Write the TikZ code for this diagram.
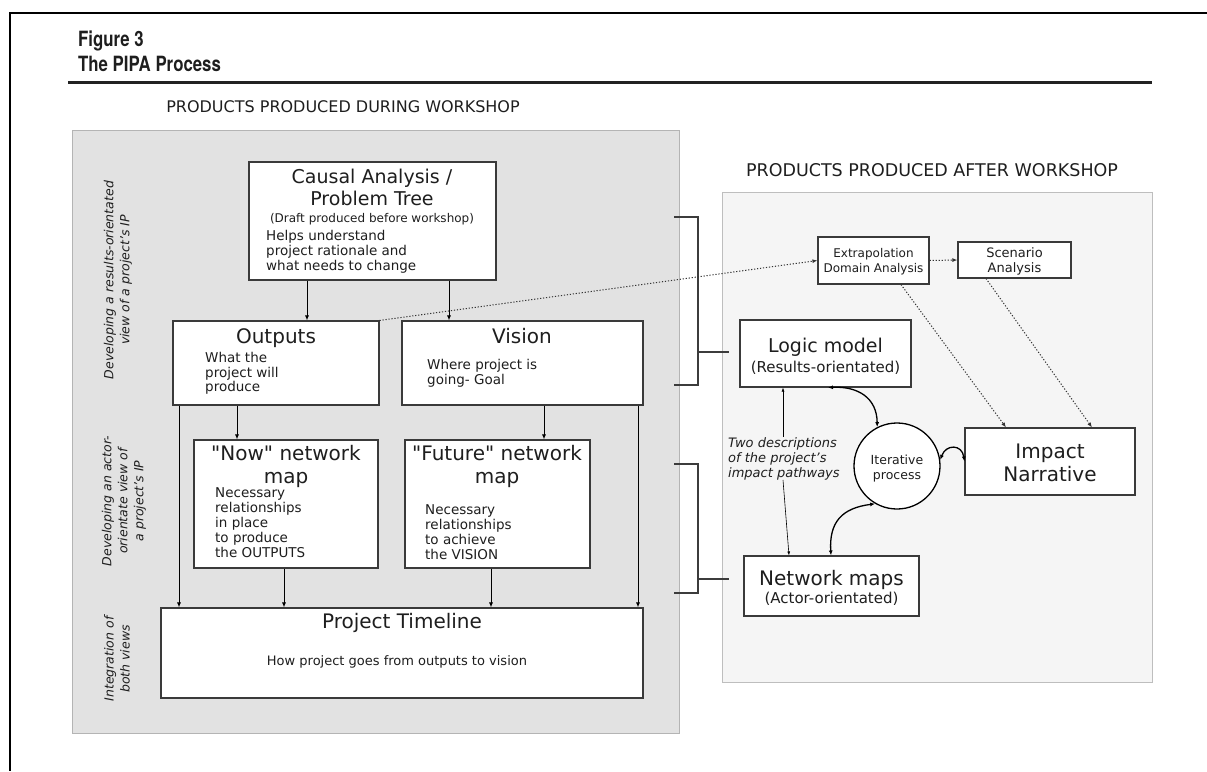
\documentclass[tikz,border=0pt]{standalone}
\usepackage{fontspec}
\setmainfont{DejaVu Sans}[Ligatures=TeXOff]
\newfontfamily\hfont[FakeStretch=0.8]{TeX Gyre Heros}
\usetikzlibrary{arrows.meta,calc}
\definecolor{panelgray}{HTML}{E2E2E2}
\definecolor{pborder}{HTML}{B4B4B4}
\definecolor{rpanel}{HTML}{F5F5F5}
\definecolor{rborder}{HTML}{BEBEBE}
\definecolor{boxc}{HTML}{3A3A3A}
\definecolor{txt}{HTML}{1E1E1E}
\definecolor{dotc}{HTML}{333333}
\definecolor{brkc}{HTML}{3C3C3C}
\definecolor{rulec}{HTML}{222222}
\begin{document}
\begin{tikzpicture}[x=1pt,y=-1pt,
  box/.style={draw=boxc,fill=white,line width=1.1pt,inner sep=0pt,rectangle},
  tx/.style={inner sep=0pt,text=txt},
  arr/.style={draw=black,line width=0.9pt,-{Latex[length=5pt,width=4pt]}},
  dotl/.style={draw=dotc,line width=1pt,dash pattern=on 1.2pt off 1.8pt,-{Latex[length=5pt,width=4pt]}},
  darr/.style={draw=black,line width=1.3pt,{Latex[length=5pt,width=4pt]}-{Latex[length=5pt,width=4pt]}},
  thinarr/.style={draw=black,line width=0.6pt,-{Latex[length=4pt,width=3pt]}},
  brk/.style={draw=brkc,line width=1.3pt},
  rot/.style={tx,rotate=90,align=center,font=\itshape\fontsize{12.5}{16}\selectfont}]
\useasboundingbox (0,0) rectangle (1207,771);
% frame
\draw[line width=2.5pt] (1207,13) -- (10,13) -- (10,771);
% title
\node[tx,anchor=base west,font=\hfont\bfseries\fontsize{21}{24}\selectfont] (fig) at (78,46) {Figure 3};
\node[tx,anchor=base west,font=\hfont\bfseries\fontsize{21}{24}\selectfont] (ttl) at (78,71) {The PIPA Process};
\draw[line width=3pt,rulec] (68,82) -- (1152,82);
% headers
\node[tx,anchor=base,font=\fontsize{16}{19}\selectfont] (hdr1) at (343,112) {PRODUCTS PRODUCED DURING WORKSHOP};
\node[tx,anchor=base,font=\fontsize{17.5}{20}\selectfont] (hdr2) at (932,176) {PRODUCTS PRODUCED AFTER WORKSHOP};
% panels
\draw[draw=pborder,fill=panelgray,line width=1pt] (72,130) rectangle (679,733);
\draw[draw=rborder,fill=rpanel,line width=1pt] (722,192) rectangle (1152,682);
% rotated labels
\node[rot] (lab1) at (118,280) {Developing a results-orientated\\view of a project’s IP};
\node[rot] (lab2) at (124,501) {Developing an actor-\\orientate view of\\a project’s IP};
\node[rot] (lab3) at (117,659) {Integration of\\both views};
% left boxes
\node[box,minimum width=247pt,minimum height=118pt] (causal) at (372.5,221) {};
\node[box,minimum width=206pt,minimum height=84pt] (outputs) at (276,363) {};
\node[box,minimum width=241pt,minimum height=84pt] (vision) at (522.5,363) {};
\node[box,minimum width=184pt,minimum height=128pt] (nowmap) at (286,504) {};
\node[box,minimum width=185pt,minimum height=128pt] (futmap) at (497.5,504) {};
\node[box,minimum width=482pt,minimum height=90pt] (timeline) at (402,653) {};
% left texts
\node[tx,anchor=base,font=\fontsize{19}{22}\selectfont] (c1) at (372,183) {Causal Analysis /};
\node[tx,anchor=base,font=\fontsize{19}{22}\selectfont] (c2) at (372,205) {Problem Tree};
\node[tx,anchor=base,font=\fontsize{12}{14}\selectfont] (c3) at (372,222) {(Draft produced before workshop)};
\node[tx,anchor=north west,align=left,font=\fontsize{13.5}{15}\selectfont] (c4) at (266,230) {Helps understand\\project rationale and\\what needs to change};
\node[tx,anchor=base,font=\fontsize{20}{23}\selectfont] (o1) at (276,343) {Outputs};
\node[tx,anchor=north west,align=left,font=\fontsize{13.5}{14.7}\selectfont] (o2) at (205,352) {What the\\project will\\produce};
\node[tx,anchor=base,font=\fontsize{20}{23}\selectfont] (v1) at (522,343) {Vision};
\node[tx,anchor=north west,align=left,font=\fontsize{13.5}{15}\selectfont] (v2) at (427,359) {Where project is\\going- Goal};
\node[tx,anchor=base,font=\fontsize{20}{23}\selectfont] (n1) at (286,460) {"Now" network};
\node[tx,anchor=base,font=\fontsize{20}{23}\selectfont] (n2) at (286,483) {map};
\node[tx,anchor=north west,align=left,font=\fontsize{13.5}{15}\selectfont] (n3) at (215,487) {Necessary\\relationships\\in place\\to produce\\the OUTPUTS};
\node[tx,anchor=base,font=\fontsize{20}{23}\selectfont] (f1) at (497,460) {"Future" network};
\node[tx,anchor=base,font=\fontsize{20}{23}\selectfont] (f2) at (497,483) {map};
\node[tx,anchor=north west,align=left,font=\fontsize{13.5}{15}\selectfont] (f3) at (425,504) {Necessary\\relationships\\to achieve\\the VISION};
\node[tx,anchor=base,font=\fontsize{20}{23}\selectfont] (p1) at (402,628) {Project Timeline};
\node[tx,anchor=base,font=\fontsize{13}{15}\selectfont] (p2) at (397,665) {How project goes from outputs to vision};
% left arrows
\coordinate (xa) at (307,0); \coordinate (xb) at (449,0);
\coordinate (xc) at (237,0); \coordinate (xd) at (544,0);
\coordinate (xe) at (179,0); \coordinate (xf) at (284,0);
\coordinate (xg) at (491,0); \coordinate (xh) at (638,0);
\draw[arr] (causal.south -| xa) -- (outputs.north -| xa);
\draw[arr] (causal.south -| xb) -- (vision.north -| xb);
\draw[arr] (outputs.south -| xc) -- (nowmap.north -| xc);
\draw[arr] (vision.south -| xd) -- (futmap.north -| xd);
\draw[arr] (outputs.south -| xe) -- (timeline.north -| xe);
\draw[arr] (nowmap.south -| xf) -- (timeline.north -| xf);
\draw[arr] (futmap.south -| xg) -- (timeline.north -| xg);
\draw[arr] (vision.south -| xh) -- (timeline.north -| xh);
% brackets
\draw[brk] (674,217) -- (698,217) -- (698,385) -- (674,385);
\coordinate (bk1) at (729,352);
\draw[brk] (698,352) -- (bk1);
\draw[brk] (674,464) -- (698,464) -- (698,593) -- (674,593);
\coordinate (bk2) at (729,579);
\draw[brk] (698,579) -- (bk2);
% right boxes
\node[box,minimum width=111pt,minimum height=47pt] (extrap) at (873.5,260.5) {};
\node[box,minimum width=113pt,minimum height=36pt] (scen) at (1014.5,260) {};
\node[box,minimum width=171pt,minimum height=67pt] (logic) at (825.5,353.5) {};
\node[box,minimum width=170pt,minimum height=67pt] (impact) at (1050,461.5) {};
\node[box,minimum width=175pt,minimum height=60pt] (netmaps) at (831.5,586) {};
\node[draw=black,fill=white,line width=1.3pt,circle,minimum size=86pt,inner sep=0pt] (circ) at (897,466) {};
% right texts
\node[tx,anchor=base,font=\fontsize{12}{14}\selectfont] (e1) at (873.5,257) {Extrapolation};
\node[tx,anchor=base,font=\fontsize{12}{14}\selectfont] (e2) at (873.5,272) {Domain Analysis};
\node[tx,anchor=base,font=\fontsize{13}{15}\selectfont] (s1) at (1014.5,257) {Scenario};
\node[tx,anchor=base,font=\fontsize{13}{15}\selectfont] (s2) at (1014.5,272) {Analysis};
\node[tx,anchor=base,font=\fontsize{19}{22}\selectfont] (l1) at (825.5,352) {Logic model};
\node[tx,anchor=base,font=\fontsize{15}{18}\selectfont] (l2) at (825.5,372) {(Results-orientated)};
\node[tx,anchor=base,font=\fontsize{20}{23}\selectfont] (i1) at (1050,458) {Impact};
\node[tx,anchor=base,font=\fontsize{20}{23}\selectfont] (i2) at (1050,481) {Narrative};
\node[tx,anchor=base,font=\fontsize{20}{23}\selectfont] (m1) at (831.5,585) {Network maps};
\node[tx,anchor=base,font=\fontsize{15}{18}\selectfont] (m2) at (831.5,603) {(Actor-orientated)};
\node[tx,anchor=base,font=\fontsize{12.5}{15}\selectfont] (it1) at (897,464) {Iterative};
\node[tx,anchor=base,font=\fontsize{12.5}{15}\selectfont] (it2) at (897,479) {process};
\node[tx,anchor=north west,align=left,font=\itshape\fontsize{13}{15}\selectfont] (two) at (728,437) {Two descriptions\\of the project’s\\impact pathways};
% right connectors
\draw[dotl] (outputs.north east) -- (extrap.west);
\draw[dotl] (extrap.east) -- (scen.west);
\coordinate (xi) at (901,0); \coordinate (xj) at (1006,0);
\coordinate (xk) at (986,0); \coordinate (xl) at (1092,0);
\draw[dotl] (extrap.south -| xi) -- (impact.north -| xj);
\draw[dotl] (scen.south -| xk) -- (impact.north -| xl);
\coordinate (xm) at (783,0); \coordinate (xn) at (789,0);
\draw[thinarr] (two.north -| xm) -- (logic.south -| xm);
\draw[thinarr] (two.south -| xm) -- (netmaps.north -| xn);
\coordinate (xo) at (828,0); \coordinate (xp) at (831,0);
\draw[darr] (logic.south -| xo) .. controls (858,386) and (877,398) .. (circ.117);
\draw[darr] (circ.8) .. controls (946,444) and (962,444) .. (impact.west);
\draw[darr] (circ.240) .. controls (842,508) and (829,522) .. (netmaps.north -| xp);
\end{tikzpicture}
\end{document}
